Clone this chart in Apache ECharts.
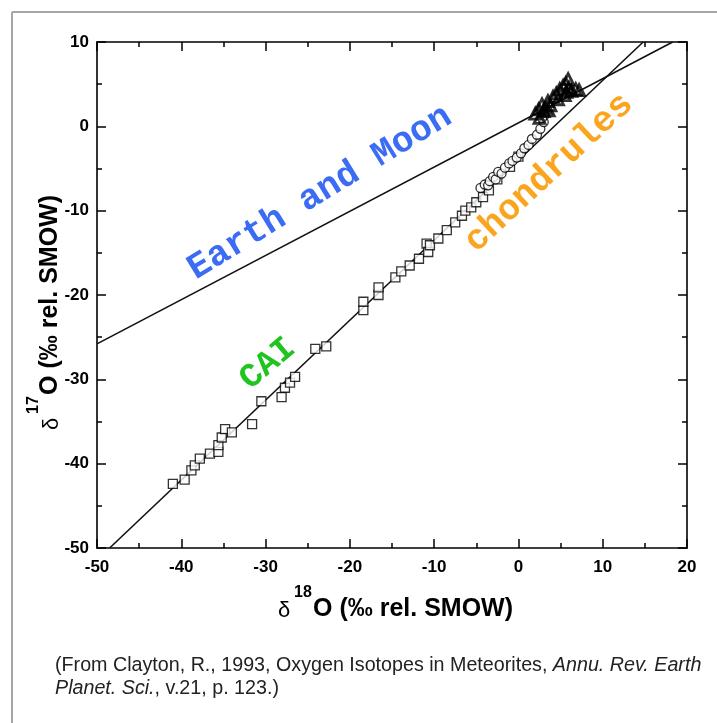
<!DOCTYPE html>
<html>
<head>
<meta charset="utf-8">
<script src="https://cdn.jsdelivr.net/npm/echarts@6/dist/echarts.min.js"></script>
<style>
html,body{margin:0;padding:0;background:#fff;}
#chart{width:717px;height:723px;}
</style>
</head>
<body>
<div id="chart"></div>
<script>
// ---- data (δ18O, δ17O in ‰ rel. SMOW) ----
var xTicks = [-50, -40, -30, -20, -10, 0, 10, 20];
var yTicks = [-50, -40, -30, -20, -10, 0, 10];

// Terrestrial fractionation line (Earth and Moon)
var tflLine = [[-50, -25.8], [18.3, 10]];
// Carbonaceous chondrite anhydrous mineral line
var ccamLine = [[-48.5, -50], [14.8, 10]];

// CAI (squares)
var caiPoints = [
  [-41.0, -42.4], [-39.6, -41.9], [-38.8, -40.8], [-38.4, -40.2], [-37.8, -39.4],
  [-36.6, -38.8], [-35.6, -38.6], [-35.6, -37.8], [-35.2, -36.9], [-34.8, -35.9],
  [-34.0, -36.3], [-31.6, -35.3], [-30.5, -32.6], [-28.1, -32.1], [-27.7, -31.0],
  [-27.1, -30.4], [-26.5, -29.7], [-24.1, -26.4], [-22.8, -26.1],
  [-18.4, -21.8], [-18.4, -20.8], [-16.6, -20.0], [-16.6, -19.1], [-14.6, -17.9],
  [-13.9, -17.2], [-12.9, -16.5], [-11.8, -15.7], [-10.9, -13.9], [-10.7, -14.9],
  [-10.5, -14.1], [-9.5, -13.3], [-8.5, -12.3], [-7.5, -11.4], [-6.7, -10.6],
  [-6.3, -10.0], [-5.6, -9.6], [-5.0, -9.0], [-4.2, -8.4], [-3.5, -7.6],
  [-2.5, -6.3], [-1.0, -4.8], [0.0, -3.6]
];

// Chondrules (circles)
var chondrulePoints = [
  [-4.5, -7.3], [-4.0, -6.9], [-3.6, -7.0], [-3.4, -6.5], [-3.0, -6.0],
  [-2.7, -6.3], [-2.4, -5.4], [-2.0, -5.6], [-1.6, -4.9], [-1.1, -4.4],
  [-0.7, -4.1], [-0.2, -3.7], [0.3, -3.2], [0.7, -2.6], [1.2, -2.2],
  [1.6, -1.5], [2.2, -1.0], [2.6, -0.3], [3.0, 0.5], [3.1, 1.3], [2.8, 1.0]
];

// Dark cluster (triangles)
var clusterPoints = [
  [2.0, 1.5], [2.4, 2.0], [2.8, 2.6], [3.2, 2.2], [3.5, 3.0], [3.8, 2.5],
  [4.1, 3.5], [4.5, 3.9], [4.9, 4.4], [5.3, 4.8], [5.6, 5.1], [5.9, 5.6],
  [6.0, 4.6], [6.3, 4.2], [6.8, 4.4], [7.2, 4.3], [5.5, 3.7], [4.7, 3.2],
  [2.5, 1.0], [3.0, 1.8], [3.6, 1.9], [5.7, 4.1]
];

var chart = echarts.init(document.getElementById('chart'), null, {renderer: 'canvas'});

var G = {left: 97, top: 42, width: 590, height: 506};
var tickFont = {fontFamily: 'Liberation Sans, Arial, sans-serif', fontWeight: 'bold', fontSize: 17, color: '#000'};
var axisLine = {show: true, onZero: false, lineStyle: {color: '#000', width: 1.6}};

function xAxisDef(pos, showLabel) {
  return {
    type: 'value', position: pos, min: xTicks[0], max: xTicks[xTicks.length - 1], interval: 10,
    axisLine: axisLine,
    axisTick: {show: true, inside: true, length: 9, lineStyle: {color: '#000', width: 1.5}},
    minorTick: {show: true, splitNumber: 2, length: 5, lineStyle: {color: '#000', width: 1.5}},
    splitLine: {show: false},
    axisLabel: Object.assign({show: showLabel, margin: 11}, tickFont)
  };
}
function yAxisDef(pos, showLabel) {
  return {
    type: 'value', position: pos, min: yTicks[0], max: yTicks[yTicks.length - 1], interval: 10,
    axisLine: axisLine,
    axisTick: {show: true, inside: true, length: 9, lineStyle: {color: '#000', width: 1.5}},
    minorTick: {show: true, splitNumber: 2, length: 5, lineStyle: {color: '#000', width: 1.5}},
    splitLine: {show: false},
    axisLabel: Object.assign({show: showLabel, margin: 8}, tickFont)
  };
}

function titleGroup(x, y, rot, sup) {
  return {
    type: 'group', x: x, y: y, rotation: rot,
    children: [
      {type: 'text', x: 0, y: 2, style: {text: 'δ', font: 'normal 22px "Liberation Sans", Arial', fill: '#000', align: 'left', verticalAlign: 'middle'}},
      {type: 'text', x: 16, y: -16, style: {text: sup, font: 'bold 16px "Liberation Sans", Arial', fill: '#000', align: 'left', verticalAlign: 'middle'}},
      {type: 'text', x: 35, y: 0, style: {text: 'O (‰ rel. SMOW)', font: 'bold 25px "Liberation Sans", Arial', fill: '#000', align: 'left', verticalAlign: 'middle'}}
    ]
  };
}

var monoBold = 'bold 36px "Liberation Mono", "Courier New", monospace';

var option = {
  animation: false,
  backgroundColor: '#fff',
  grid: {left: G.left, top: G.top, width: G.width, height: G.height, containLabel: false},
  xAxis: [xAxisDef('bottom', true), xAxisDef('top', false)],
  yAxis: [yAxisDef('left', true), yAxisDef('right', false)],
  series: [
    {type: 'line', data: tflLine, symbol: 'none', lineStyle: {color: '#111', width: 1.6}, z: 2},
    {type: 'line', data: ccamLine, symbol: 'none', lineStyle: {color: '#111', width: 1.6}, z: 2},
    {type: 'scatter', data: caiPoints, symbol: 'rect', symbolSize: 9,
     itemStyle: {color: '#fff', borderColor: '#000', borderWidth: 1.3}, z: 3},
    {type: 'scatter', data: chondrulePoints, symbol: 'circle', symbolSize: 9,
     itemStyle: {color: '#fff', borderColor: '#000', borderWidth: 1.3}, z: 4},
    {type: 'scatter', data: clusterPoints, symbol: 'triangle', symbolSize: 11,
     itemStyle: {color: 'rgba(255,255,255,0)', borderColor: '#000', borderWidth: 2.8}, z: 5}
  ],
  graphic: [
    // outer frame
    {type: 'line', shape: {x1: 12, y1: 12, x2: 717, y2: 12}, style: {stroke: '#a6a6a6', lineWidth: 2}},
    {type: 'line', shape: {x1: 12, y1: 12, x2: 12, y2: 723}, style: {stroke: '#a6a6a6', lineWidth: 2}},
    // axis titles
    titleGroup(278, 609, 0, '18'),
    titleGroup(50, 430, Math.PI / 2, '17'),
    // labels on the plot
    {type: 'text', x: 320, y: 193, rotation: 31.5 * Math.PI / 180,
     style: {text: 'Earth and Moon', font: monoBold, fill: '#3a6cf4', align: 'center', verticalAlign: 'middle'}},
    {type: 'text', x: 549, y: 173, rotation: 43 * Math.PI / 180,
     style: {text: 'chondrules', font: monoBold, fill: '#fba51f', align: 'center', verticalAlign: 'middle'}},
    {type: 'text', x: 268, y: 364, rotation: 40 * Math.PI / 180,
     style: {text: 'CAI', font: 'bold 34px "Liberation Mono", "Courier New", monospace', fill: '#1fc41f', align: 'center', verticalAlign: 'middle'}},
    // caption
    {type: 'text', x: 55, y: 654,
     style: {
       text: '(From Clayton, R., 1993, Oxygen Isotopes in Meteorites, {i|Annu. Rev. Earth}\n{i|Planet. Sci.}, v.21, p. 123.)',
       font: 'normal 19.7px "Liberation Sans", Arial', fill: '#222', lineHeight: 23,
       rich: {i: {fontStyle: 'italic', fontSize: 19.7, fontFamily: 'Liberation Sans, Arial', fill: '#222', lineHeight: 23}}
     }}
  ]
};
chart.setOption(option);
</script>
</body>
</html>
